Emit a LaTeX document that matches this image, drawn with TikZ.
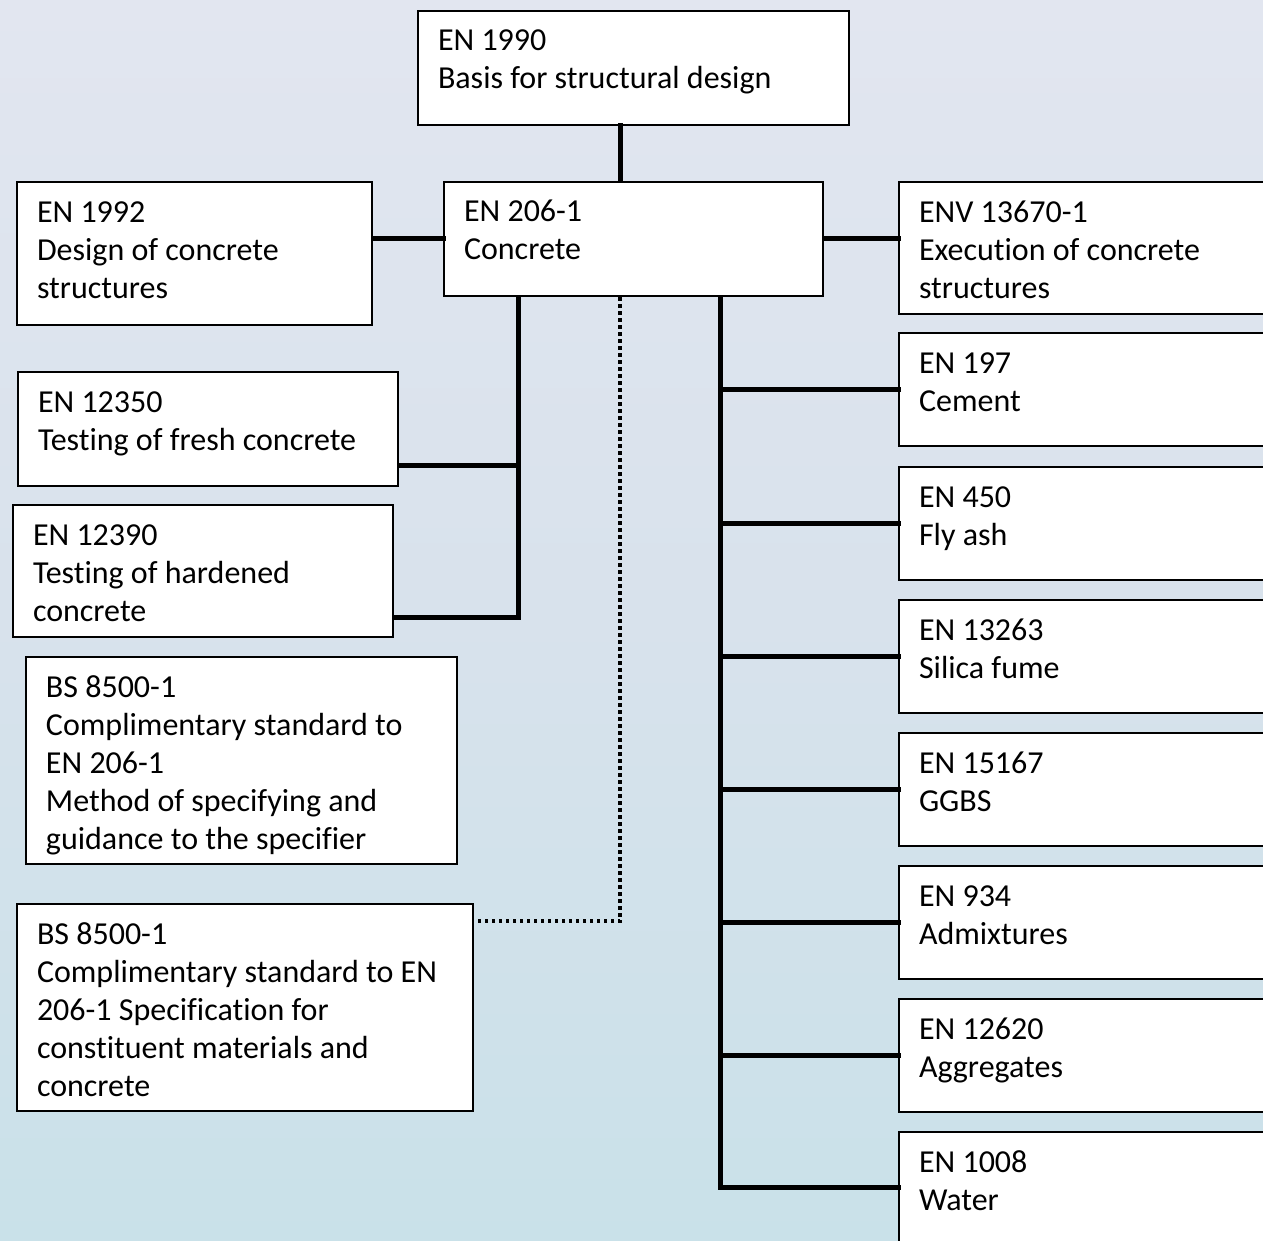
\documentclass[tikz,border=0pt]{standalone}
\usepackage{fontspec}
\setmainfont{Carlito}[Ligatures=NoCommon]
\definecolor{bgtop}{RGB}{226,230,240}
\definecolor{bgmid}{RGB}{216,226,236}
\definecolor{bgbot}{RGB}{201,225,233}
\newcommand\bxt[3]{\parbox[b][#2][t]{#1}{\fontsize{32}{38}\selectfont\raggedright\leftskip=20pt\rule{0pt}{40pt}#3}}
\tikzset{
  stdbox/.style={draw=black, line width=2pt, fill=white, inner sep=0pt, anchor=north west},
  conn/.style={line width=5pt, line cap=rect},
  dotconn/.style={line width=3.5pt, dash pattern=on 3.5pt off 3.5pt},
}
\begin{document}
\begin{tikzpicture}[x=1pt,y=-1pt]
\useasboundingbox (0,0) rectangle (1263,1241);
\clip (0,0) rectangle (1263,1241);
\shade[top color=bgtop, bottom color=bgbot, middle color=bgmid] (0,0) rectangle (1263,1241);

% boxes
\node[stdbox] (en1990) at (417,10) {\bxt{431pt}{114pt}{EN 1990\\Basis for structural design}};
\node[stdbox] (en1992) at (16,181) {\bxt{355pt}{143pt}{EN 1992\\Design of concrete\\structures}};
\node[stdbox] (en206) at (443,181) {\bxt{379pt}{114pt}{EN 206-1\\Concrete}};
\node[stdbox] (env) at (898,181) {\bxt{400pt}{132pt}{ENV 13670-1\\Execution of concrete\\structures}};
\node[stdbox] (en197) at (898,332) {\bxt{400pt}{113pt}{EN 197\\Cement}};
\node[stdbox] (en450) at (898,466) {\bxt{400pt}{113pt}{EN 450\\Fly ash}};
\node[stdbox] (en13263) at (898,599) {\bxt{400pt}{113pt}{EN 13263\\Silica fume}};
\node[stdbox] (en15167) at (898,732) {\bxt{400pt}{113pt}{EN 15167\\GGBS}};
\node[stdbox] (en934) at (898,865) {\bxt{400pt}{113pt}{EN 934\\Admixtures}};
\node[stdbox] (en12620) at (898,998) {\bxt{400pt}{113pt}{EN 12620\\Aggregates}};
\node[stdbox] (en1008) at (898,1131) {\bxt{400pt}{113pt}{EN 1008\\Water}};
\node[stdbox] (en12350) at (17,371) {\bxt{380pt}{114pt}{EN 12350\\Testing of fresh concrete}};
\node[stdbox] (en12390) at (12,504) {\bxt{380pt}{132pt}{EN 12390\\Testing of hardened\\concrete}};
\node[stdbox] (bsa) at (25,656) {\bxt{431pt}{207pt}{BS 8500-1\\Complimentary standard to\\EN 206-1\\Method of specifying and\\guidance to the specifier}};
\node[stdbox] (bsb) at (16,903) {\bxt{456pt}{207pt}{BS 8500-1\\Complimentary standard to EN\\206-1 Specification for\\constituent materials and\\concrete}};

% helper coordinates
\coordinate (xtop) at (620,0);
\coordinate (lbus) at (518,617);
\coordinate (l12350) at (518,465);
\coordinate (rbus) at (720,1187);
\coordinate (dcorner) at (620,921);

% connectors
\draw[conn] (en1990.south -| xtop) -- (en206.north -| xtop);
\draw[conn] (en1992.east |- en206.west) -- (en206.west);
\draw[conn] (en206.east) -- (env.west |- en206.east);
\draw[conn] (en206.south -| lbus) -- (lbus) -- (lbus -| en12390.east);
\draw[conn] (l12350) -- (l12350 -| en12350.east);
\draw[conn] (en206.south -| rbus) -- (rbus) -- (en1008.west |- rbus);
\draw[conn] (en197.west -| rbus) -- (en197.west);
\draw[conn] (en450.west -| rbus) -- (en450.west);
\draw[conn] (en13263.west -| rbus) -- (en13263.west);
\draw[conn] (en15167.west -| rbus) -- (en15167.west);
\draw[conn] (en934.west -| rbus) -- (en934.west);
\draw[conn] (en12620.west -| rbus) -- (en12620.west);
\draw[dotconn] (en206.south -| dcorner) -- (dcorner) -- (bsb.east |- dcorner);
\end{tikzpicture}
\end{document}
